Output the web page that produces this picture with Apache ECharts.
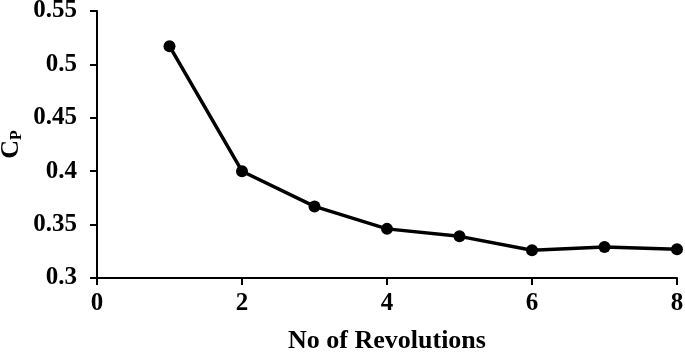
<!DOCTYPE html>
<html><head><meta charset="utf-8">
<script src="https://cdn.jsdelivr.net/npm/echarts@6/dist/echarts.min.js"></script>
<style>html,body{margin:0;padding:0;background:#fff}#c{width:685px;height:354px}</style>
</head><body><div id="c"></div>
<script>
const revolutions = [1, 2, 3, 4, 5, 6, 7, 8];
const cpValues = [0.517, 0.400, 0.367, 0.346, 0.339, 0.326, 0.329, 0.327];
const xTitle = 'No of Revolutions';
const yTitle = 'C';
const ySub = 'P';

const chart = echarts.init(document.getElementById('c'));
const font = '"Liberation Serif", "Times New Roman", serif';
chart.setOption({
  animation: false,
  backgroundColor: '#fff',
  grid: {left: 97, right: 8, top: 11, bottom: 76, containLabel: false, outerBoundsMode: 'none'},
  xAxis: {
    type: 'value', min: 0, max: 8, interval: 2,
    name: xTitle, nameLocation: 'middle', nameGap: 50, nameMoveOverlap: false,
    nameTextStyle: {fontFamily: font, fontWeight: 'bold', fontSize: 26, color: '#000'},
    axisLine: {lineStyle: {color: '#000', width: 2}},
    axisTick: {lineStyle: {color: '#000', width: 2}, length: 7},
    axisLabel: {fontFamily: font, fontWeight: 'bold', fontSize: 25, color: '#000', margin: 13},
    splitLine: {show: false}
  },
  yAxis: {
    type: 'value', min: 0.3, max: 0.55, interval: 0.05,
    name: '{c|' + yTitle + '}{s|' + ySub + '}', nameLocation: 'middle', nameGap: 72, nameRotate: 90,
    nameMoveOverlap: false,
    nameTextStyle: {rich: {
      c: {fontFamily: font, fontWeight: 'bold', fontSize: 26, color: '#000'},
      s: {fontFamily: font, fontWeight: 'bold', fontSize: 16, color: '#000', padding: [12, 0, 0, 0]}
    }},
    axisLine: {show: true, lineStyle: {color: '#000', width: 2}},
    axisTick: {show: true, lineStyle: {color: '#000', width: 2}, length: 7},
    axisLabel: {fontFamily: font, fontWeight: 'bold', fontSize: 25, color: '#000', margin: 20,
      formatter: v => String(parseFloat(v.toFixed(2)))},
    splitLine: {show: false}
  },
  series: [{
    type: 'line',
    data: revolutions.map((x, i) => [x, cpValues[i]]),
    symbol: 'circle', symbolSize: 12,
    lineStyle: {color: '#000', width: 3.5},
    itemStyle: {color: '#000'}
  }]
});
</script></body></html>
